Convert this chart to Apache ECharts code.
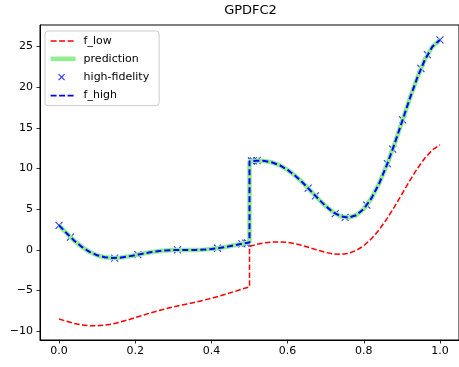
<!DOCTYPE html>
<html>
<head>
<meta charset="utf-8">
<script src="https://cdn.jsdelivr.net/npm/echarts@6/dist/echarts.min.js"></script>
<style>
  html, body { margin: 0; padding: 0; background: #fff; }
  #chart { width: 459px; height: 367px; }
</style>
</head>
<body>
<div id="chart"></div>
<script>
const titleText = 'GPDFC2';
const seriesNames = ['f_low', 'prediction', 'high-fidelity', 'f_high'];

const curveX = [0, 0.02, 0.04, 0.06, 0.08, 0.10, 0.12, 0.14, 0.16, 0.18, 0.20, 0.22, 0.24, 0.26, 0.28, 0.30,
  0.32, 0.34, 0.36, 0.38, 0.40, 0.42, 0.44, 0.46, 0.48, 0.50,
  0.50, 0.52, 0.54, 0.56, 0.58, 0.60, 0.62, 0.64, 0.66, 0.68, 0.70, 0.72, 0.74, 0.76, 0.78, 0.80,
  0.82, 0.84, 0.86, 0.88, 0.90, 0.92, 0.94, 0.96, 0.98, 1.00];

const fLowY = [-8.486, -8.776, -9.028, -9.214, -9.317, -9.328, -9.250, -9.093, -8.872, -8.608, -8.320, -8.026,
  -7.741, -7.475, -7.231, -7.008, -6.801, -6.600, -6.396, -6.179, -5.943, -5.683, -5.404, -5.112, -4.820, -4.545,
  0.455, 0.692, 0.872, 0.978, 0.998, 0.925, 0.765, 0.532, 0.251, -0.042, -0.303, -0.485, -0.536, -0.408, -0.065,
  0.525, 1.372, 2.467, 3.783, 5.270, 6.856, 8.453, 9.963, 11.277, 12.294, 12.915];

const fHighY = [3.027, 2.049, 1.144, 0.371, -0.234, -0.657, -0.900, -0.985, -0.944, -0.816, -0.640, -0.452,
  -0.282, -0.149, -0.061, -0.016, -0.001, 0.000, 0.008, 0.042, 0.115, 0.233, 0.392, 0.577, 0.761, 0.909,
  10.909, 10.984, 10.945, 10.757, 10.396, 9.851, 9.130, 8.264, 7.302, 6.317, 5.394, 4.631, 4.129, 3.984, 4.271,
  5.051, 6.344, 8.135, 10.367, 12.940, 15.712, 18.507, 21.126, 23.354, 24.988, 25.830];

const predictionY = [3.027, 2.049, 1.144, 0.371, -0.234, -0.657, -0.900, -0.985, -0.944, -0.816, -0.640, -0.452,
  -0.282, -0.149, -0.061, -0.016, -0.001, 0.000, 0.008, 0.042, 0.115, 0.233, 0.392, 0.577, 0.761, 0.909,
  10.909, 10.984, 10.945, 10.757, 10.396, 9.851, 9.130, 8.264, 7.302, 6.317, 5.394, 4.631, 4.129, 3.984, 4.271,
  5.051, 6.344, 8.135, 10.367, 12.940, 15.712, 18.507, 21.126, 23.354, 24.988, 25.830];

const hiX = [0, 0.03, 0.146, 0.207, 0.311, 0.416, 0.48, 0.49, 0.495, 0.505, 0.51, 0.52,
  0.654, 0.673, 0.725, 0.751, 0.808, 0.862, 0.876, 0.902, 0.95, 0.967, 1.0];
const hiY = [3.03, 1.58, -0.99, -0.57, 0.00, 0.21, 0.76, 0.84, 0.88, 10.94, 10.96, 10.98,
  7.60, 6.66, 4.48, 4.00, 5.51, 10.61, 12.41, 15.99, 22.31, 24.01, 25.83];

const xTicks = [0, 0.2, 0.4, 0.6, 0.8, 1.0];
const yTicks = [-10, -5, 0, 5, 10, 15, 20, 25];

const pair = (xs, ys) => xs.map((x, i) => [x, ys[i]]);
const fmtNum = v => (v < 0 ? '\u2212' + Math.abs(v) : String(v));

const FONT = 'DejaVu Sans';
const chart = echarts.init(document.getElementById('chart'), null, { renderer: 'canvas' });

const dashIcon = 'path://M0,0L0,0M28,12L28,12M0,5.2h6v1.6h-6zM8.5,5.2h6v1.6h-6zM17,5.2h6v1.6h-6z';
const barIcon = 'path://M0,0L0,0M28,12L28,12M0,3.7h25v4.6h-25z';
const crossIcon = 'path://M0,0L0,0M28,12L28,12M8,3L14,9M14,3L8,9';

chart.setOption({
  backgroundColor: '#fff',
  animation: false,
  title: {
    text: titleText,
    left: 250.5,
    textAlign: 'center',
    top: 4,
    padding: 0,
    textStyle: { fontFamily: FONT, fontSize: 13, fontWeight: 'normal', color: '#000' }
  },
  grid: {
    left: 40, top: 25, width: 421, height: 315,
    show: true, borderColor: '#000', borderWidth: 1, backgroundColor: '#fff'
  },
  legend: {
    left: 45, top: 31,
    orient: 'vertical',
    padding: [4, 10, 4, 5],
    itemGap: 5.8,
    itemWidth: 28,
    itemHeight: 12,
    symbolKeepAspect: false,
    backgroundColor: 'rgba(255,255,255,0.8)',
    borderColor: '#cccccc',
    borderWidth: 1,
    borderRadius: 3,
    textStyle: { fontFamily: FONT, fontSize: 11, color: '#000' },
    data: [
      { name: seriesNames[0], icon: dashIcon, itemStyle: { color: '#ff0000', borderWidth: 0 } },
      { name: seriesNames[1], icon: barIcon, itemStyle: { color: '#90ee90', borderWidth: 0 } },
      { name: seriesNames[2], icon: crossIcon, itemStyle: { color: '#0000ff', borderColor: '#0000ff', borderWidth: 1.2 } },
      { name: seriesNames[3], icon: dashIcon, itemStyle: { color: '#0000ff', borderWidth: 0 } }
    ]
  },
  xAxis: {
    type: 'value',
    min: -0.05, max: 1.05,
    splitLine: { show: false },
    axisLine: { show: true, onZero: false, lineStyle: { color: '#000', width: 1 } },
    axisTick: { show: true, inside: false, length: 3.5, customValues: xTicks, lineStyle: { color: '#000', width: 0.8 } },
    axisLabel: {
      customValues: xTicks, margin: 6,
      formatter: v => v.toFixed(1),
      fontFamily: FONT, fontSize: 11, color: '#000'
    }
  },
  yAxis: {
    type: 'value',
    min: -11.07, max: 27.66,
    splitLine: { show: false },
    axisLine: { show: true, onZero: false, lineStyle: { color: '#000', width: 1 } },
    axisTick: { show: true, inside: false, length: 3.5, customValues: yTicks, lineStyle: { color: '#000', width: 0.8 } },
    axisLabel: {
      customValues: yTicks, margin: 7,
      formatter: v => fmtNum(v),
      fontFamily: FONT, fontSize: 11, color: '#000'
    }
  },
  series: [
    {
      name: seriesNames[0], type: 'line', data: pair(curveX, fLowY),
      showSymbol: false, symbol: 'none', color: '#ff0000',
      lineStyle: { color: '#ff0000', width: 1.5, type: [5.5, 2.4] }
    },
    {
      name: seriesNames[1], type: 'line', data: pair(curveX, predictionY),
      showSymbol: false, symbol: 'none', color: '#90ee90',
      lineStyle: { color: '#90ee90', width: 4.5 }
    },
    {
      name: seriesNames[2], type: 'scatter', data: pair(hiX, hiY),
      symbol: 'path://M0,0L10,10M10,0L0,10', symbolSize: 7,
      color: '#0000ff',
      itemStyle: { color: '#0000ff', borderColor: '#0000ff', borderWidth: 1.1 }
    },
    {
      name: seriesNames[3], type: 'line', data: pair(curveX, fHighY),
      showSymbol: false, symbol: 'none', color: '#0000ff',
      lineStyle: { color: '#0000ff', width: 2, type: [6, 3] }
    }
  ]
});
</script>
</body>
</html>
